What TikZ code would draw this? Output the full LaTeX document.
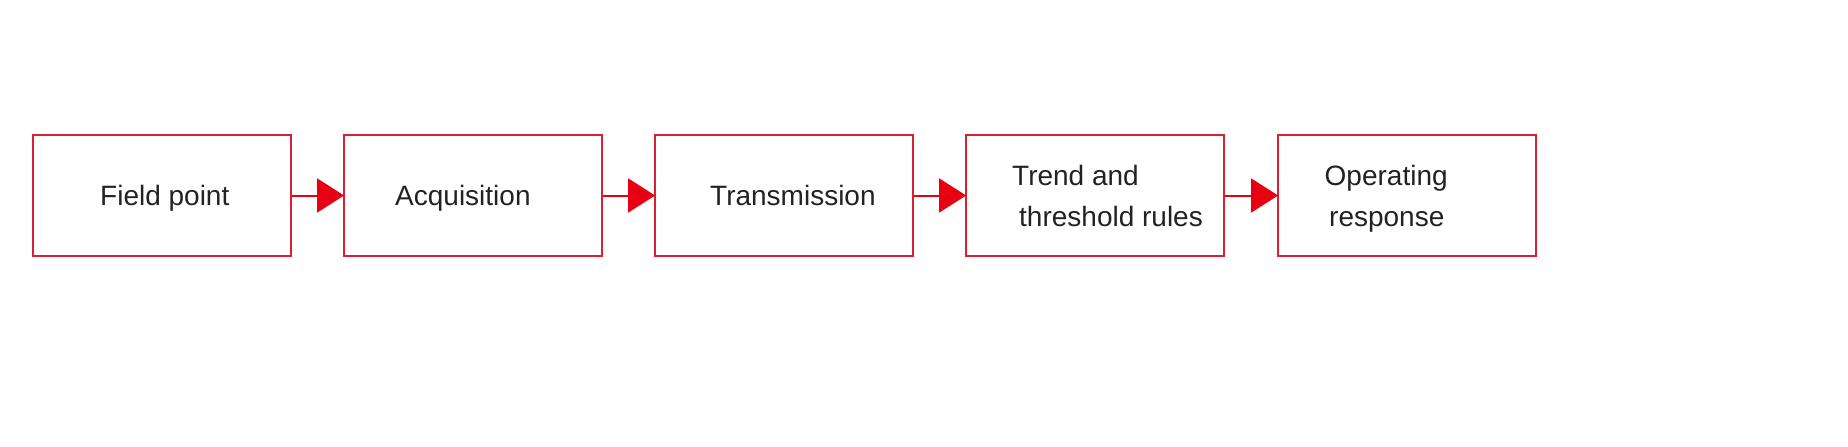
\documentclass[tikz,border=0pt]{standalone}
\usepackage{fontspec}
\setmainfont{Liberation Sans}
\usetikzlibrary{arrows.meta}
\definecolor{boxred}{HTML}{DC1E32}
\definecolor{arrred}{HTML}{E60012}
\definecolor{txt}{HTML}{222222}
\tikzset{
  stage/.style={draw=boxred, line width=1.8pt, minimum width=258pt, minimum height=121pt, inner sep=0pt},
  lbl/.style={anchor=base west, inner sep=0pt, text=txt, font=\fontsize{28}{34}\selectfont},
  flow/.style={draw=arrred, line width=2pt, -{Triangle[length=27pt,width=34pt]}, shorten >=-1pt},
}
\begin{document}
\begin{tikzpicture}[x=1pt,y=-1pt]
\useasboundingbox (0,0) rectangle (1848,447);
\node[stage] (b1) at (162,195.5) {};
\node[stage] (b2) at (473,195.5) {};
\node[stage] (b3) at (784,195.5) {};
\node[stage] (b4) at (1095,195.5) {};
\node[stage] (b5) at (1407,195.5) {};
\node[lbl] (t1) at (100,205.7) {Field point};
\node[lbl] (t2) at (395,205.7) {Acquisition};
\node[lbl] (t3) at (710,205.7) {Transmission};
\node[lbl] (t4a) at (1012,185.8) {Trend and};
\node[lbl] (t4b) at (1019,226.3) {threshold rules};
\node[lbl] (t5a) at (1324.5,185) {Operating};
\node[lbl] (t5b) at (1329,226) {response};
\draw[flow] (b1.east) -- (b2.west);
\draw[flow] (b2.east) -- (b3.west);
\draw[flow] (b3.east) -- (b4.west);
\draw[flow] (b4.east) -- (b5.west);
\end{tikzpicture}
\end{document}
